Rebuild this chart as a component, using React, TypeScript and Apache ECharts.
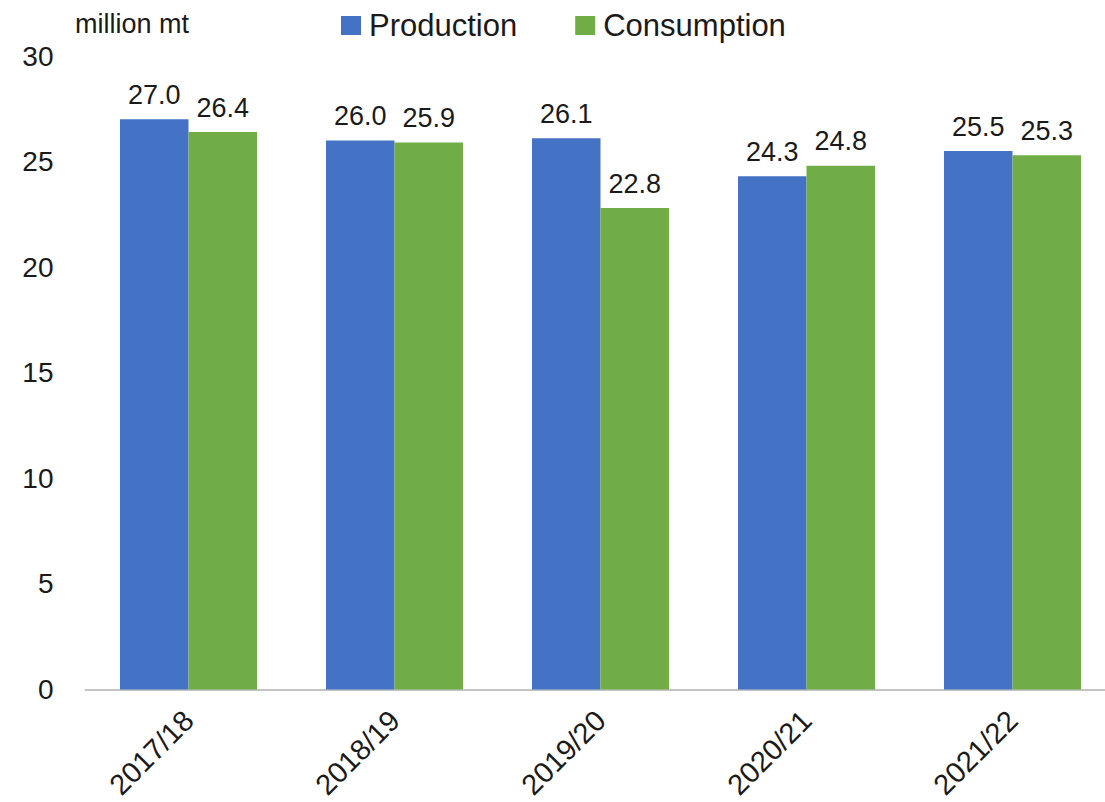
import React, { useEffect, useRef } from "react";
import * as echarts from "echarts";

const categories = ["2017/18", "2018/19", "2019/20", "2020/21", "2021/22"];
const production = [27.0, 26.0, 26.1, 24.3, 25.5];
const consumption = [26.4, 25.9, 22.8, 24.8, 25.3];
const seriesNames = ["Production", "Consumption"];
const unitLabel = "million mt";

const FONT = "'Liberation Sans', Arial, sans-serif";

export default function App() {
  const ref = useRef<HTMLDivElement>(null);
  useEffect(() => {
    if (!ref.current) return;
    document.body.style.margin = "0";
    document.body.style.overflow = "hidden";
    const chart = echarts.init(ref.current, undefined, { renderer: "svg" });
    const labelCfg = {
      show: true,
      position: "top" as const,
      distance: 11,
      fontSize: 27,
      fontFamily: FONT,
      color: "#1a1a1a",
      formatter: (p: any) => Number(p.value).toFixed(1),
    };
    chart.setOption({
      animation: false,
      textStyle: { fontFamily: FONT },
      title: {
        text: unitLabel,
        left: 70,
        top: 5,
        textStyle: { fontSize: 27, fontWeight: "normal", color: "#1a1a1a", fontFamily: FONT },
      },
      legend: {
        data: seriesNames,
        left: 336,
        top: 5,
        icon: "rect",
        itemWidth: 20,
        itemHeight: 19,
        itemGap: 58,
        textStyle: { fontSize: 31, color: "#1a1a1a", fontFamily: FONT, padding: [0, 0, 0, 3] },
      },
      grid: { left: 85.5, right: 4.5, top: 56, bottom: 107, containLabel: false },
      xAxis: {
        type: "category",
        data: categories,
        axisLine: { show: true, lineStyle: { color: "#c4c4c4", width: 2 } },
        axisTick: { show: false },
        axisLabel: {
          rotate: 45,
          margin: 26,
          fontSize: 29,
          color: "#1a1a1a",
          fontFamily: FONT,
          interval: 0,
        },
      },
      yAxis: {
        type: "value",
        min: 0,
        max: 30,
        interval: 5,
        splitLine: { show: false },
        axisLine: { show: false },
        axisTick: { show: false },
        axisLabel: { margin: 32, fontSize: 28, color: "#1a1a1a", fontFamily: FONT },
      },
      series: [
        {
          name: seriesNames[0],
          type: "bar",
          data: production,
          barGap: "0%",
          barCategoryGap: "33.5%",
          itemStyle: { color: "#4472C4" },
          label: labelCfg,
        },
        {
          name: seriesNames[1],
          type: "bar",
          data: consumption,
          barGap: "0%",
          barCategoryGap: "33.5%",
          itemStyle: { color: "#70AD47" },
          label: labelCfg,
        },
      ],
    });
    return () => chart.dispose();
  }, []);
  return (
    <div
      style={{
        position: "fixed",
        left: 0,
        top: 0,
        width: 1105,
        height: 802,
        overflow: "hidden",
        background: "#fff",
      }}
    >
      <div ref={ref} style={{ position: "absolute", left: 0, top: 0, width: 1120, height: 802 }} />
    </div>
  );
}
